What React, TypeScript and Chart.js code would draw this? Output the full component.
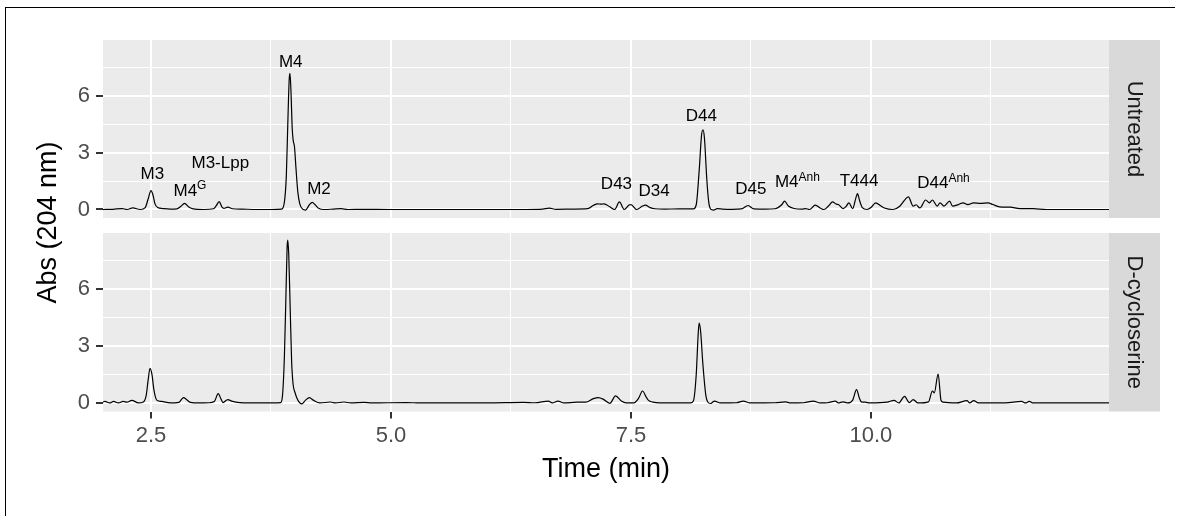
import React, { useEffect, useRef } from 'react';
import { Chart, registerables } from 'chart.js';

Chart.register(...registerables);

// ---------- data ----------
const FACETS = ['Untreated', 'D-cycloserine'];

const UNTREATED_TIME = [
  2.0, 2.1, 2.2, 2.25, 2.31, 2.39, 2.44, 2.47, 2.5, 2.52, 2.54, 2.57, 2.62, 2.7,
  2.77, 2.81, 2.85, 2.89, 2.94, 3.05, 3.15, 3.18, 3.21, 3.24, 3.26, 3.3, 3.35, 3.45,
  3.6, 3.75, 3.86, 3.89, 3.91, 3.925, 3.94, 3.948, 3.96, 3.97, 3.98, 3.995, 4.01,
  4.03, 4.05, 4.08, 4.11, 4.15, 4.18, 4.21, 4.25, 4.3, 4.4, 4.48, 4.55, 4.7, 5.0,
  5.5, 6.0, 6.4, 6.58, 6.65, 6.72, 6.9, 7.05, 7.11, 7.15, 7.19, 7.22, 7.28, 7.33,
  7.38, 7.43, 7.48, 7.5, 7.56, 7.62, 7.65, 7.7, 7.75, 7.85, 8.0, 8.15, 8.18, 8.21,
  8.235, 8.25, 8.265, 8.29, 8.31, 8.33, 8.36, 8.4, 8.46, 8.55, 8.65, 8.72, 8.78,
  8.9, 9.0, 9.07, 9.1, 9.14, 9.2, 9.28, 9.32, 9.36, 9.42, 9.48, 9.51, 9.56, 9.6,
  9.64, 9.66, 9.71, 9.74, 9.77, 9.81, 9.84, 9.86, 9.88, 9.91, 9.96, 10.0, 10.05,
  10.1, 10.14, 10.23, 10.3, 10.36, 10.39, 10.44, 10.47, 10.51, 10.57, 10.61, 10.64,
  10.69, 10.72, 10.76, 10.82, 10.85, 10.91, 10.96, 11.01, 11.07, 11.14, 11.22,
  11.27, 11.34, 11.45, 11.55, 11.69, 11.83, 12.0, 12.2, 12.48,
];
const UNTREATED_ABS = [
  0.0, 0.01, 0.05, 0.0, 0.08, 0.0, 0.1, 0.55, 1.0, 0.78, 0.32, 0.1, 0.05, 0.02,
  0.03, 0.16, 0.32, 0.15, 0.03, 0.0, 0.04, 0.2, 0.42, 0.12, 0.06, 0.12, 0.04, 0.02,
  0.0, 0.0, 0.02, 0.4, 1.8, 4.5, 6.9, 7.19, 6.0, 4.4, 3.7, 3.3, 2.2,
  0.9, 0.3, 0.02, -0.03, 0.25, 0.38, 0.25, 0.05, 0.0, 0.02, 0.04, 0.0, 0.01, 0.0,
  0.0, 0.0, 0.0, 0.02, 0.07, 0.01, 0.02, 0.04, 0.22, 0.3, 0.28, 0.3, 0.14, 0.0,
  0.4, 0.0, 0.24, 0.26, 0.0, 0.18, 0.23, 0.1, 0.04, 0.02, 0.03, 0.03, 0.25, 2.0,
  3.9, 4.21, 3.8, 1.6, 0.4, 0.02, -0.03, 0.05, 0.02, 0.01, 0.03, 0.21, 0.03,
  0.02, 0.04, 0.25, 0.44, 0.18, 0.05, 0.02, 0.05, 0.0, 0.23, 0.05, 0.0, 0.2, 0.4,
  0.28, 0.26, 0.05, 0.15, 0.35, 0.05, 0.55, 0.84, 0.5, 0.1, 0.0, 0.1, 0.35,
  0.2, 0.08, 0.0, 0.17, 0.55, 0.67, 0.18, 0.25, 0.08, 0.5, 0.35, 0.5,
  0.18, 0.35, 0.18, 0.44, 0.18, 0.26, 0.35, 0.26, 0.35, 0.32, 0.35,
  0.26, 0.14, 0.12, 0.05, 0.04, 0.0, 0.0, 0.0, 0.0,
];

const DCS_TIME = [
  2.0, 2.02, 2.07, 2.11, 2.16, 2.21, 2.25, 2.3, 2.37, 2.42, 2.45, 2.47, 2.49, 2.51,
  2.53, 2.56, 2.61, 2.7, 2.79, 2.82, 2.84, 2.87, 2.91, 3.0, 3.1, 3.16, 3.2, 3.23,
  3.25, 3.3, 3.34, 3.4, 3.55, 3.7, 3.85, 3.87, 3.89, 3.905, 3.918, 3.925, 3.935,
  3.95, 3.965, 3.98, 4.0, 4.03, 4.07, 4.11, 4.15, 4.19, 4.26, 4.37, 4.42, 4.51,
  4.58, 4.72, 4.8, 5.16, 5.3, 6.0, 6.38, 6.5, 6.64, 6.68, 6.74, 6.8, 6.94, 7.03,
  7.11, 7.16, 7.21, 7.28, 7.34, 7.4, 7.45, 7.53, 7.58, 7.62, 7.66, 7.68, 7.73, 7.8,
  8.12, 8.15, 8.18, 8.2, 8.21, 8.225, 8.25, 8.28, 8.3, 8.33, 8.37, 8.43, 8.6, 8.67,
  8.74, 9.0, 9.11, 9.16, 9.3, 9.4, 9.47, 9.55, 9.63, 9.66, 9.71, 9.76, 9.81, 9.85,
  9.88, 9.9, 9.94, 9.99, 10.17, 10.24, 10.29, 10.35, 10.4, 10.44, 10.49, 10.6,
  10.64, 10.66, 10.7, 10.73, 10.75, 10.89, 11.0, 11.03, 11.07, 11.12, 11.4, 11.57,
  11.61, 11.65, 11.69, 12.0, 12.48,
];
const DCS_ABS = [
  0.05, 0.08, 0.0, 0.08, 0.0, 0.08, 0.04, 0.14, 0.0, 0.05, 0.4, 1.2, 1.82, 1.5,
  0.7, 0.15, 0.08, 0.0, 0.03, 0.2, 0.28, 0.18, 0.03, 0.0, 0.01, 0.08, 0.49, 0.2,
  0.02, 0.18, 0.1, 0.03, 0.0, 0.0, 0.02, 0.4, 2.5, 5.5, 8.2, 8.57, 7.8,
  5.0, 2.2, 1.0, 0.55, 0.15, -0.05, 0.15, 0.28, 0.15, 0.0, 0.05, 0.0, 0.05,
  0.0, 0.03, 0.0, 0.02, 0.0, 0.0, 0.03, 0.01, 0.1, 0.0, 0.1, 0.0, 0.04, 0.04,
  0.23, 0.28, 0.2, -0.02, 0.37, 0.1, 0.0, 0.0, 0.25, 0.63, 0.3, 0.15, 0.04, 0.0,
  0.0, 0.1, 1.5, 3.6, 4.2, 3.8, 2.0, 0.4, 0.05, -0.03, 0.1, 0.0, 0.01, 0.1,
  0.0, 0.01, 0.06, 0.0, 0.01, 0.1, 0.0, 0.01, 0.1, 0.0, 0.06, 0.0, 0.15, 0.7,
  0.25, 0.06, 0.04, 0.0, 0.04, 0.14, 0.0, 0.35, 0.02, 0.18, 0.0, 0.06,
  0.63, 0.53, 1.52, 0.14, 0.04, 0.0, 0.12, 0.0, 0.12, 0.0, 0.0, 0.08,
  0.0, 0.08, 0.0, 0.0, 0.0,
];

const PEAK_NAMES = ['M3', 'M4', 'M3-Lpp', 'M4', 'M2', 'D43', 'D34', 'D44', 'D45', 'M4', 'T444', 'D44'];
const PEAK_SUPS = ['', 'G', '', '', '', '', '', '', '', 'Anh', '', 'Anh'];
const PEAK_TIME = [2.514, 2.906, 3.222, 3.956, 4.25, 7.349, 7.741, 8.234, 8.748, 9.234, 9.876, 10.756];
const PEAK_ABS = [1.94, 1.03, 2.52, 7.85, 1.15, 1.41, 1.06, 5.02, 1.16, 1.49, 1.56, 1.44];

const X_TICKS = [2.5, 3.75, 5, 6.25, 7.5, 8.75, 10, 11.25];
const X_TICK_LABELS = ['2.5', '', '5.0', '', '7.5', '', '10.0', ''];
const Y_TICKS = [0, 1.5, 3, 4.5, 6, 7.5];
const Y_TICK_LABELS = ['0', '', '3', '', '6', ''];

const X_TITLE = 'Time (min)';
const Y_TITLE = 'Abs (204 nm)';

// ---------- style ----------
const X_MIN = 2.0;
const X_MAX = 12.48;
const Y_MIN = -0.45;
const Y_MAX = 8.95;
const FONT = "'Liberation Sans', Arial, Helvetica, sans-serif";
const W = 1179;
const H = 516;

function isMajor(list: number[], labels: string[], v: number) {
  const i = list.indexOf(v);
  return i >= 0 && labels[i] !== '';
}

function makeConfig(panel: number): any {
  const isBottom = panel === 1;
  const T = isBottom ? DCS_TIME : UNTREATED_TIME;
  const A = isBottom ? DCS_ABS : UNTREATED_ABS;

  const panelPlugin = {
    id: 'panelDecor' + panel,
    beforeDraw(chart: any) {
      const { ctx, chartArea: ca } = chart;
      ctx.save();
      ctx.fillStyle = '#EBEBEB';
      ctx.fillRect(ca.left, ca.top, ca.right - ca.left, ca.bottom - ca.top);
      ctx.restore();
    },
    afterDraw(chart: any) {
      const { ctx, chartArea: ca } = chart;
      ctx.save();
      // strip
      ctx.fillStyle = '#D9D9D9';
      ctx.fillRect(ca.right, ca.top, 51, ca.bottom - ca.top);
      ctx.translate(ca.right + 25.5, (ca.top + ca.bottom) / 2);
      ctx.rotate(Math.PI / 2);
      ctx.fillStyle = '#1A1A1A';
      ctx.font = `22px ${FONT}`;
      ctx.textAlign = 'center';
      ctx.textBaseline = 'middle';
      ctx.fillText(FACETS[panel], 0, 0);
      ctx.restore();

      if (isBottom) {
        ctx.save();
        ctx.translate(49, 222.5);
        ctx.rotate(-Math.PI / 2);
        ctx.fillStyle = '#000000';
        ctx.font = `27px ${FONT}`;
        ctx.textAlign = 'center';
        ctx.textBaseline = 'middle';
        ctx.fillText(Y_TITLE, 0, 0);
        ctx.restore();
      }
    },
    afterDatasetsDraw(chart: any) {
      if (isBottom) return;
      const { ctx } = chart;
      const xs = chart.scales.x;
      const ys = chart.scales.y;
      ctx.save();
      ctx.fillStyle = '#000000';
      ctx.textAlign = 'left';
      ctx.textBaseline = 'alphabetic';
      PEAK_NAMES.forEach((name, i) => {
        const sup = PEAK_SUPS[i];
        ctx.font = `17px ${FONT}`;
        const wb = ctx.measureText(name).width;
        ctx.font = `12px ${FONT}`;
        const ws = sup ? ctx.measureText(sup).width : 0;
        const cx = xs.getPixelForValue(PEAK_TIME[i]);
        const cy = ys.getPixelForValue(PEAK_ABS[i]);
        const left = cx - (wb + ws) / 2;
        const base = cy + 17 * 0.36;
        ctx.font = `17px ${FONT}`;
        ctx.fillText(name, left, base);
        if (sup) {
          ctx.font = `12px ${FONT}`;
          ctx.fillText(sup, left + wb, base - 6.7);
        }
      });
      ctx.restore();
    },
  };

  return {
    type: 'line',
    data: {
      datasets: [
        {
          data: T.map((t, i) => ({ x: t, y: A[i] })),
          borderColor: '#000000',
          borderWidth: 1.2,
          pointRadius: 0,
          fill: false,
          cubicInterpolationMode: 'monotone',
        },
      ],
    },
    options: {
      responsive: false,
      animation: false,
      devicePixelRatio: 1,
      events: [],
      layout: {
        padding: isBottom
          ? { left: 0, right: 70, top: 233, bottom: 0 }
          : { left: 0, right: 70, top: 40, bottom: 298 },
      },
      plugins: { legend: { display: false }, tooltip: { enabled: false }, title: { display: false } },
      scales: {
        x: {
          type: 'linear',
          min: X_MIN,
          max: X_MAX,
          afterBuildTicks: (s: any) => {
            s.ticks = X_TICKS.map((v) => ({ value: v }));
          },
          afterFit: (s: any) => {
            s.height = isBottom ? 104.5 : 0;
          },
          border: { display: false },
          grid: {
            color: '#FFFFFF',
            lineWidth: (c: any) => (c.tick && isMajor(X_TICKS, X_TICK_LABELS, c.tick.value) ? 2 : 1),
            drawTicks: isBottom,
            tickLength: 7,
            tickWidth: 2,
            tickColor: (c: any) =>
              c.tick && isMajor(X_TICKS, X_TICK_LABELS, c.tick.value) ? '#333333' : 'rgba(0,0,0,0)',
          },
          ticks: {
            display: isBottom,
            autoSkip: false,
            maxRotation: 0,
            minRotation: 0,
            padding: 4,
            color: '#4D4D4D',
            font: { family: FONT, size: 22 },
            callback: (v: any) => {
              const i = X_TICKS.indexOf(Number(v));
              return i >= 0 ? X_TICK_LABELS[i] : '';
            },
          },
          title: {
            display: isBottom,
            text: X_TITLE,
            color: '#000000',
            font: { family: FONT, size: 27 },
            padding: { top: 0, bottom: 30 },
          },
        },
        y: {
          type: 'linear',
          min: Y_MIN,
          max: Y_MAX,
          afterBuildTicks: (s: any) => {
            s.ticks = Y_TICKS.map((v) => ({ value: v }));
          },
          afterFit: (s: any) => {
            s.width = 103;
          },
          border: { display: false },
          grid: {
            color: '#FFFFFF',
            lineWidth: (c: any) => (c.tick && isMajor(Y_TICKS, Y_TICK_LABELS, c.tick.value) ? 2 : 1),
            drawTicks: true,
            tickLength: 7,
            tickWidth: 2,
            tickColor: (c: any) =>
              c.tick && isMajor(Y_TICKS, Y_TICK_LABELS, c.tick.value) ? '#333333' : 'rgba(0,0,0,0)',
          },
          ticks: {
            autoSkip: false,
            padding: 6,
            color: '#4D4D4D',
            font: { family: FONT, size: 22 },
            callback: (v: any) => {
              const i = Y_TICKS.indexOf(Number(v));
              return i >= 0 ? Y_TICK_LABELS[i] : '';
            },
          },
        },
      },
    },
    plugins: [panelPlugin],
  };
}

export default function App() {
  const topRef = useRef<HTMLCanvasElement | null>(null);
  const botRef = useRef<HTMLCanvasElement | null>(null);

  useEffect(() => {
    const charts: Chart[] = [];
    if (topRef.current) charts.push(new Chart(topRef.current, makeConfig(0)));
    if (botRef.current) charts.push(new Chart(botRef.current, makeConfig(1)));
    return () => {
      charts.forEach((c) => c.destroy());
    };
  }, []);

  const canvasStyle: React.CSSProperties = {
    position: 'absolute',
    left: 0,
    top: 0,
    width: W,
    height: H,
  };

  return (
    <div style={{ position: 'fixed', left: 0, top: 0, width: W, height: H, background: '#FFFFFF', overflow: 'hidden' }}>
      <div
        style={{
          position: 'absolute',
          left: 5,
          top: 7,
          width: 1170,
          height: 520,
          borderTop: '1px solid #000',
          borderLeft: '1px solid #000',
          boxSizing: 'border-box',
        }}
      />
      <canvas ref={topRef} width={W} height={H} style={canvasStyle} />
      <canvas ref={botRef} width={W} height={H} style={canvasStyle} />
    </div>
  );
}
